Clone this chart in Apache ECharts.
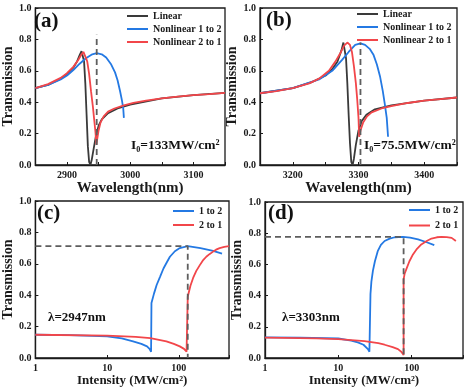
<!DOCTYPE html>
<html><head><meta charset="utf-8">
<script src="https://cdn.jsdelivr.net/npm/echarts@6/dist/echarts.min.js"></script>
<style>html,body{margin:0;padding:0;background:#fff}#c{width:467px;height:388px}</style>
</head><body><div id="c"></div>
<script>
// ---------- data ----------
// Panel (a): wavelength (nm) vs transmission
const aLinear = [[2850,0.49],[2870,0.51],[2890,0.55],[2900,0.58],[2910,0.62],[2916,0.66],[2920,0.70],[2923,0.725],[2925,0.72],[2927,0.66],[2929,0.52],[2931,0.32],[2933,0.12],[2935,0.02],[2937,0.0],[2939,0.03],[2942,0.10],[2946,0.19],[2950,0.25],[2955,0.29],[2965,0.33],[2980,0.36],[3000,0.385],[3050,0.425],[3100,0.445],[3150,0.46]];
const aBlue = [[2850,0.49],[2870,0.51],[2890,0.545],[2900,0.57],[2910,0.605],[2920,0.645],[2930,0.68],[2940,0.705],[2947,0.712],[2955,0.705],[2962,0.685],[2970,0.64],[2976,0.59],[2980,0.54],[2984,0.47],[2987,0.41],[2989,0.36],[2990,0.30]];
const aRed = [[2850,0.49],[2870,0.515],[2890,0.555],[2900,0.585],[2910,0.625],[2918,0.67],[2923,0.705],[2926,0.72],[2929,0.71],[2932,0.66],[2935,0.58],[2938,0.47],[2941,0.37],[2943,0.29],[2945,0.21],[2946.5,0.13],[2948,0.17],[2950,0.22],[2953,0.27],[2958,0.31],[2965,0.34],[2975,0.36],[2990,0.38],[3005,0.395],[3025,0.41],[3050,0.425],[3075,0.435],[3100,0.445],[3125,0.452],[3150,0.46]];
const aDash = [[2947,0],[2947,0.83]];
// Panel (b)
const bLinear = [[3150,0.457],[3200,0.49],[3230,0.53],[3250,0.57],[3260,0.61],[3268,0.66],[3274,0.73],[3277,0.78],[3279,0.77],[3281,0.68],[3283,0.52],[3285,0.32],[3287,0.14],[3289,0.02],[3291,0.0],[3293,0.04],[3296,0.13],[3300,0.22],[3305,0.28],[3312,0.32],[3325,0.355],[3350,0.38],[3400,0.41],[3450,0.43]];
const bBlue = [[3150,0.457],[3200,0.49],[3240,0.545],[3260,0.60],[3275,0.67],[3285,0.72],[3295,0.765],[3303,0.775],[3310,0.765],[3317,0.74],[3323,0.70],[3328,0.64],[3333,0.56],[3337,0.47],[3340,0.39],[3343,0.30],[3345,0.18]];
const bRed = [[3150,0.457],[3175,0.47],[3200,0.49],[3225,0.52],[3240,0.55],[3255,0.60],[3265,0.66],[3272,0.71],[3278,0.76],[3283,0.78],[3287,0.765],[3290,0.72],[3293,0.63],[3296,0.52],[3298,0.42],[3300,0.30],[3301,0.18],[3303,0.22],[3307,0.27],[3313,0.31],[3320,0.335],[3335,0.36],[3350,0.375],[3375,0.395],[3400,0.41],[3425,0.42],[3450,0.43]];
const bDash = [[3303,0],[3303,0.78]];
// Panel (c): intensity (MW/cm2) vs transmission, lambda = 2947 nm
const cBlue = [[1,0.148],[3,0.146],[10,0.138],[16,0.125],[23,0.106],[30,0.09],[36,0.074],[39,0.058],[41,0.04],[41.5,0.035],[41.5,0.35],[45,0.41],[49,0.465],[55,0.52],[61,0.57],[68,0.61],[75,0.645],[88,0.68],[103,0.70],[133,0.713],[200,0.70],[300,0.683],[400,0.665]];
const cRed = [[1,0.148],[10,0.142],[25,0.134],[40,0.127],[67,0.106],[85,0.09],[103,0.074],[118,0.058],[128,0.04],[133,0.03],[133,0.39],[145,0.46],[158,0.51],[175,0.555],[195,0.59],[215,0.62],[241,0.645],[270,0.663],[297,0.676],[330,0.69],[370,0.70],[430,0.708],[500,0.712]];
const cDash = [[1,0.712],[133,0.712],[133,0]];
// Panel (d): lambda = 3303 nm
const dBlue = [[1,0.132],[3,0.131],[10,0.125],[15,0.112],[18.4,0.10],[22,0.085],[25.3,0.057],[26.5,0.04],[27.4,0.03],[27.4,0.41],[28.2,0.49],[29.6,0.56],[31.5,0.62],[34.4,0.685],[38,0.725],[42.7,0.75],[50,0.765],[58.6,0.774],[76,0.777],[95,0.771],[122,0.76],[160,0.742],[203,0.723]];
const dRed = [[1,0.13],[5,0.126],[10,0.121],[22.7,0.108],[35,0.095],[42.7,0.085],[55,0.07],[65,0.057],[72,0.04],[76,0.03],[77.5,0.02],[77.5,0.504],[80,0.54],[84.5,0.57],[93,0.62],[104,0.664],[118,0.70],[135,0.728],[160,0.75],[186,0.766],[220,0.774],[255,0.777],[300,0.775],[350,0.77],[400,0.75]];
const dDash = [[1,0.777],[77.5,0.777],[77.5,0]];
// labels
const panelLabels = ['(a)','(b)','(c)','(d)'];
const annotations = ['I\u2080=133MW/cm\u00b2','I\u2080=75.5MW/cm\u00b2','\u03bb=2947nm','\u03bb=3303nm'];
const legendAB = ['Linear','Nonlinear 1 to 2','Nonlinear 2 to 1'];
const legendCD = ['1 to 2','2 to 1'];
const yTitle = 'Transmission';
const xTitleAB = 'Wavelength(nm)';
const xTitleCD = 'Intensity (MW/cm\u00b2)';

// ---------- styles ----------
const FONT = '"Liberation Serif","Times New Roman",serif';
const BLUE = '#2479e3', RED = '#f2464a', GRAY = '#3a3a3a', DASH = '#5e5e5e';
const ink = '#1a1a1a';

const grids = [
  {left:31, top:8, width:194, height:157},
  {left:260, top:8, width:197, height:157},
  {left:34, top:201, width:195, height:157},
  {left:265, top:202, width:198, height:157}
];
grids.forEach(g=>{g.show=true; g.borderColor=ink; g.borderWidth=1.3; g.backgroundColor='transparent';});

const lblStyle = {fontFamily:FONT, fontWeight:'bold', fontSize:10, color:ink};
const nameStyle = {fontFamily:FONT, fontWeight:'bold', fontSize:13, color:ink};

function xLin(gi, min, max){
  return {gridIndex:gi, type:'value', min:min, max:max, interval:50,
    name: xTitleAB, nameLocation:'middle', nameGap:16, nameTextStyle:Object.assign({}, nameStyle, {fontSize:15}),
    axisLine:{show:true, onZero:false, lineStyle:{color:ink, width:1.3}},
    axisTick:{show:true, inside:true, length:3, lineStyle:{color:ink}},
    splitLine:{show:false},
    axisLabel:Object.assign({margin:5, formatter:v=> (v%100===0 && v>min && v<max)? String(v):''}, lblStyle)};
}
function xLog(gi){
  return {gridIndex:gi, type:'log', logBase:10, min:1, max:500,
    name: xTitleCD, nameLocation:'middle', nameGap:16, nameTextStyle:nameStyle,
    axisLine:{show:true, onZero:false, lineStyle:{color:ink, width:1.3}},
    axisTick:{show:true, inside:true, length:3, lineStyle:{color:ink}},
    splitLine:{show:false},
    axisLabel:Object.assign({margin:5, formatter:v=> (v===1||v===10||v===100)? String(v):''}, lblStyle)};
}
function yAx(gi){
  return {gridIndex:gi, type:'value', min:0, max:1, interval:0.2,
    name: yTitle, nameLocation:'middle', nameGap:20, nameTextStyle:Object.assign({}, nameStyle, {fontSize:14}),
    axisLine:{show:true, lineStyle:{color:ink, width:1.3}},
    axisTick:{show:true, inside:true, length:3, lineStyle:{color:ink}},
    splitLine:{show:false},
    axisLabel:Object.assign({margin:4, formatter:v=>v.toFixed(1)}, lblStyle)};
}
function line(name, data, color, gi, z, dashed){
  return {type:'line', name:name, data:data, xAxisIndex:gi, yAxisIndex:gi,
    symbol:'none', smooth:false, z:z, animation:false,
    lineStyle:{color:color, width: dashed?1.8:1.8, type: dashed?[6,4]:'solid'},
    itemStyle:{color:color}};
}
const series = [
  line('Linear', aLinear, GRAY, 0, 2),
  line('Nonlinear 1 to 2', aBlue, BLUE, 0, 3),
  line('Nonlinear 2 to 1', aRed, RED, 0, 4),
  line('dashA', aDash, DASH, 0, 5, true),
  line('Linear', bLinear, GRAY, 1, 2),
  line('Nonlinear 1 to 2', bBlue, BLUE, 1, 3),
  line('Nonlinear 2 to 1', bRed, RED, 1, 4),
  line('dashB', bDash, DASH, 1, 5, true),
  line('1 to 2', cBlue, BLUE, 2, 3),
  line('2 to 1', cRed, RED, 2, 4),
  line('dashC', cDash, DASH, 2, 5, true),
  line('1 to 2', dBlue, BLUE, 3, 3),
  line('2 to 1', dRed, RED, 3, 4),
  line('dashD', dDash, DASH, 3, 5, true)
];
function leg(data, left, top, gap){
  return {data:data, left:left, top:top, orient:'vertical', itemWidth:21, itemHeight:2, itemGap:gap,
    padding:0, selectedMode:false, icon:'rect',
    textStyle:{fontFamily:FONT, fontWeight:'bold', fontSize:10, color:ink, padding:[0,0,0,0]}};
}
const legends = [leg(legendAB,127,11,3), leg(legendAB,357,9,3), leg(legendCD,173,206,4), leg(legendCD,409,205,5.5)];

const titles = [
  {text:panelLabels[0], left:34, top:11},
  {text:panelLabels[1], left:266, top:10},
  {text:panelLabels[2], left:37, top:203},
  {text:panelLabels[3], left:268, top:203}
].map(t=>Object.assign(t,{padding:0, textStyle:{fontFamily:FONT, fontWeight:'bold', fontSize:21, color:'#111'}}));
const annPos = [[131,139,13.5],[364,139,13.5],[48,311,13],[282,311,13]];
annotations.forEach((s,i)=>titles.push({text:s, left:annPos[i][0], top:annPos[i][1], padding:0,
  textStyle:{fontFamily:FONT, fontWeight:'bold', fontSize:annPos[i][2], color:'#111'}}));

const chart = echarts.init(document.getElementById('c'), null, {renderer:'canvas'});
chart.setOption({
  animation:false,
  backgroundColor:'#fff',
  title: titles,
  legend: legends,
  grid: grids,
  xAxis: [xLin(0,2850,3150), xLin(1,3150,3450), xLog(2), xLog(3)],
  yAxis: [yAx(0), yAx(1), yAx(2), yAx(3)],
  series: series
});
</script></body></html>
